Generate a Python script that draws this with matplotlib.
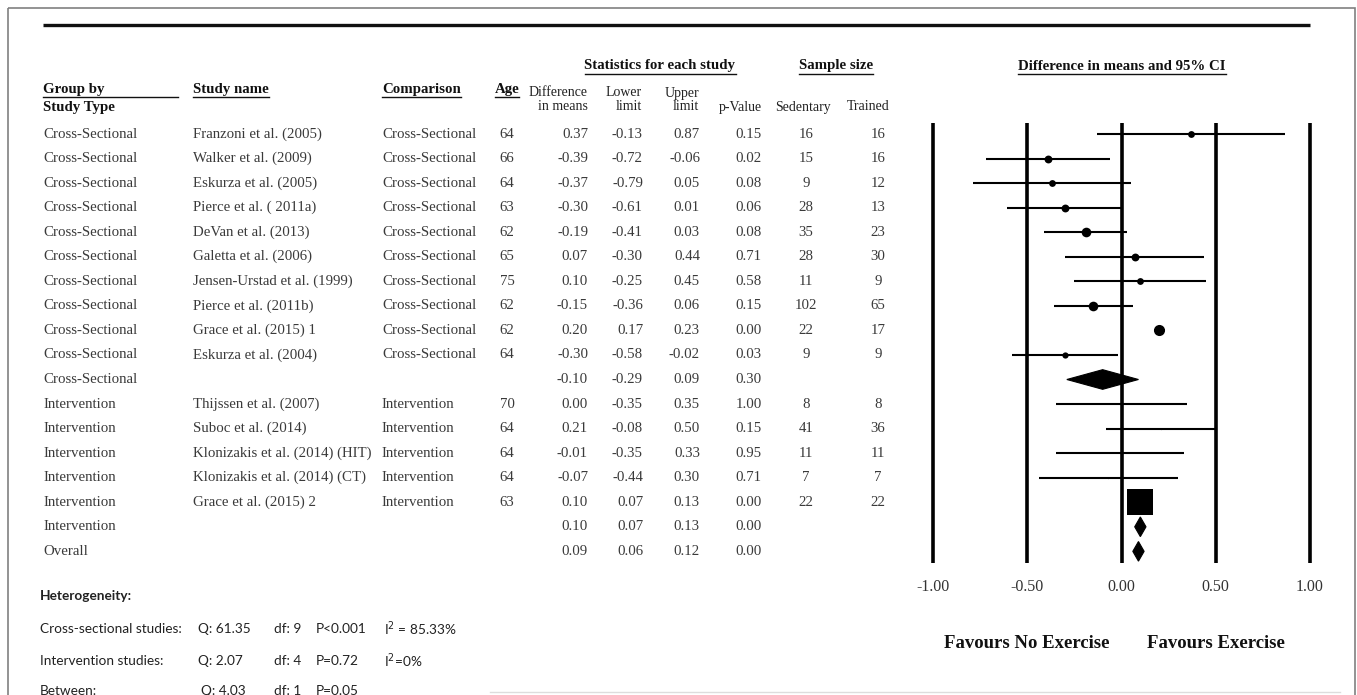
import matplotlib.pyplot as plt
from matplotlib.patches import Rectangle

# ---- data ----
groups = ["Cross-Sectional"] * 11 + ["Intervention"] * 6 + ["Overall"]
studies = [
    "Franzoni et al. (2005)", "Walker et al. (2009)", "Eskurza et al. (2005)",
    "Pierce et al. ( 2011a)", "DeVan et al. (2013)", "Galetta et al. (2006)",
    "Jensen-Urstad et al. (1999)", "Pierce et al. (2011b)", "Grace et al. (2015) 1",
    "Eskurza et al. (2004)", "",
    "Thijssen et al. (2007)", "Suboc et al. (2014)", "Klonizakis et al. (2014) (HIT)",
    "Klonizakis et al. (2014) (CT)", "Grace et al. (2015) 2", "", "",
]
comparison = ["Cross-Sectional"] * 10 + [""] + ["Intervention"] * 5 + ["", ""]
age = [64, 66, 64, 63, 62, 65, 75, 62, 62, 64, None, 70, 64, 64, 64, 63, None, None]
diff = [0.37, -0.39, -0.37, -0.30, -0.19, 0.07, 0.10, -0.15, 0.20, -0.30, -0.10,
        0.00, 0.21, -0.01, -0.07, 0.10, 0.10, 0.09]
lower = [-0.13, -0.72, -0.79, -0.61, -0.41, -0.30, -0.25, -0.36, 0.17, -0.58, -0.29,
         -0.35, -0.08, -0.35, -0.44, 0.07, 0.07, 0.06]
upper = [0.87, -0.06, 0.05, 0.01, 0.03, 0.44, 0.45, 0.06, 0.23, -0.02, 0.09,
         0.35, 0.50, 0.33, 0.30, 0.13, 0.13, 0.12]
pval = [0.15, 0.02, 0.08, 0.06, 0.08, 0.71, 0.58, 0.15, 0.00, 0.03, 0.30,
        1.00, 0.15, 0.95, 0.71, 0.00, 0.00, 0.00]
sedentary = [16, 15, 9, 28, 35, 28, 11, 102, 22, 9, None, 8, 41, 11, 7, 22, None, None]
trained = [16, 16, 12, 13, 23, 30, 9, 65, 17, 9, None, 8, 36, 11, 7, 22, None, None]
# relative study weight (drives marker size)
weight = [6, 8, 6, 8, 12, 8, 6, 12, 16, 5, 0, 0.2, 0.2, 0.2, 0.2, 90, 0, 0]
summary = [False] * 10 + [True] + [False] * 5 + [True, True]

ticks = [-1.0, -0.5, 0.0, 0.5, 1.0]
favours = ["Favours No Exercise", "Favours Exercise"]
het_rows = [
    ["Cross-sectional studies:", "Q: 61.35", "df: 9", "P<0.001", "I$^2$ = 85.33%"],
    ["Intervention studies:", "Q: 2.07", "df: 4", "P=0.72", "I$^2$=0%"],
    ["Between:", "Q: 4.03", "df: 1", "P=0.05", ""],
]

W, H = 1357, 695
SERIF = "Liberation Serif"
SANS = ["Lato", "DejaVu Sans"]
ROW0, DROW = 134, 24.55
FS = 10.7
GREY = "#3a3a3a"
INK = "#111111"


def row_of(p):
    return (p - ROW0) / DROW


fig = plt.figure(figsize=(W / 100, H / 100), dpi=100)
fig.patch.set_facecolor("white")

# overlay axes in pixel units for the table part
ax = fig.add_axes([0, 0, 1, 1])
ax.set_xlim(0, W)
ax.set_ylim(H, 0)
ax.axis("off")

ax.add_patch(Rectangle((8, 8), 1347, 720, fill=False, ec="#808080", lw=1.2))
ax.plot([43, 1310], [25, 25], color=INK, lw=2.4, solid_capstyle="butt")
ax.plot([490, 1340], [692, 692], color="#dddddd", lw=1.0)

fig.canvas.draw()
renderer = fig.canvas.get_renderer()


def header(x, y, s, ha="left", underline=True, extend_to=None):
    t = ax.text(x, y, s, ha=ha, va="center", fontsize=FS, family=SERIF,
                weight="bold", color=INK)
    if underline:
        bb = t.get_window_extent(renderer)
        x0, x1 = bb.x0, bb.x1
        if extend_to is not None:
            x1 = extend_to
        yl = y + 8
        ax.plot([x0, x1], [yl, yl], color=INK, lw=1.0)
    return t


# column headers
header(43, 89, "Group by", extend_to=178)
header(43, 107, "Study Type", underline=False)
header(193, 89, "Study name")
header(382, 89, "Comparison")
header(507, 89, "Age", ha="center")
header(660, 66, "Statistics for each study", ha="center")
header(836, 66, "Sample size", ha="center")
header(1122, 66, "Difference in means and 95% CI", ha="center")

sub_kw = dict(va="center", fontsize=10, family=SERIF, color="#222222")
ax.text(588, 93, "Difference", ha="right", **sub_kw)
ax.text(588, 107, "in means", ha="right", **sub_kw)
ax.text(642, 93, "Lower", ha="right", **sub_kw)
ax.text(642, 107, "limit", ha="right", **sub_kw)
ax.text(699, 93, "Upper", ha="right", **sub_kw)
ax.text(699, 107, "limit", ha="right", **sub_kw)
ax.text(762, 107, "p-Value", ha="right", **sub_kw)
ax.text(803, 107, "Sedentary", ha="center", **sub_kw)
ax.text(868, 107, "Trained", ha="center", **sub_kw)

for i in range(len(groups)):
    y = ROW0 + DROW * i
    kw = dict(va="center", fontsize=FS, family=SERIF, color=GREY)
    ax.text(43, y, groups[i], ha="left", **kw)
    ax.text(193, y, studies[i], ha="left", **kw)
    ax.text(382, y, comparison[i], ha="left", **kw)
    if age[i] is not None:
        ax.text(507, y, str(age[i]), ha="center", **kw)
    ax.text(588, y, f"{diff[i]:.2f}", ha="right", **kw)
    ax.text(643, y, f"{lower[i]:.2f}", ha="right", **kw)
    ax.text(700, y, f"{upper[i]:.2f}", ha="right", **kw)
    ax.text(762, y, f"{pval[i]:.2f}", ha="right", **kw)
    if sedentary[i] is not None:
        ax.text(806, y, str(sedentary[i]), ha="center", **kw)
        ax.text(878, y, str(trained[i]), ha="center", **kw)

# heterogeneity block
ax.text(40, 596, "Heterogeneity:", ha="left", va="center", fontsize=9.8,
        family=SANS, weight="bold", color="#222222")
het_x = [40, 198, 274, 316, 384]
for j, (row, y) in enumerate(zip(het_rows, [629, 661, 691])):
    for k, s in enumerate(row):
        x = het_x[k] + (3 if (j == 2 and k == 1) else 0)
        ax.text(x, y, s, ha="left", va="center", fontsize=9.8, family=SANS,
                color="#222222")

# ---- forest plot axes ----
left_px, right_px, top_px, bot_px = 914, 1323, 100, 680
ppu = (1310 - 933) / 2.0
axf = fig.add_axes([left_px / W, 1 - bot_px / H, (right_px - left_px) / W,
                    (bot_px - top_px) / H])
axf.set_xlim(-1 - (933 - left_px) / ppu, 1 + (right_px - 1310) / ppu)
axf.set_ylim(row_of(bot_px), row_of(top_px))
axf.axis("off")
axf.patch.set_alpha(0)

axf.vlines(ticks, row_of(123), row_of(563), color="#000000", lw=2.6)

for i in range(len(groups)):
    if summary[i]:
        h = 0.4
        axf.fill([lower[i], diff[i], upper[i], diff[i]], [i, i - h, i, i + h],
                 fc="black", ec="black", lw=0.8)
    else:
        axf.plot([lower[i], upper[i]], [i, i], color="black", lw=1.5,
                 solid_capstyle="butt")
        ms = 2.0 * weight[i] ** 0.5
        if ms > 0:
            axf.plot(diff[i], i, marker="s" if ms > 12 else "o", ms=ms,
                     color="black", mew=0)

for t in ticks:
    axf.text(t, row_of(587), f"{t:.2f}", ha="center", va="center", fontsize=11.5,
             family=SERIF, color="#333333", clip_on=True)

for x, s in zip([-0.5, 0.5], favours):
    axf.text(x, row_of(643), s, ha="center", va="center", fontsize=13.5,
             family=SERIF, weight="bold", color=INK)

fig.savefig("out.png", dpi=100)
